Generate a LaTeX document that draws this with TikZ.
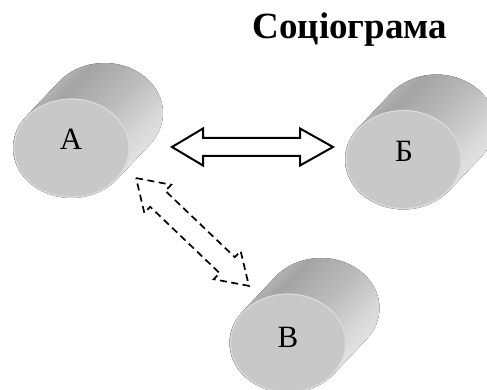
\documentclass[tikz,border=0pt]{standalone}
\usepackage{fontspec}
\setmainfont{Liberation Serif}
\definecolor{cA}{HTML}{D0D0D0}
\definecolor{cB}{HTML}{A4A4A4}
\definecolor{cC}{HTML}{BCBCBC}
\definecolor{cD}{HTML}{D8D8D8}
\definecolor{cE}{HTML}{EEEEEE}
\definecolor{face}{HTML}{C8C8C8}
\definecolor{rim}{HTML}{DADADA}
\pgfdeclarehorizontalshading{cylbody}{100bp}{color(0bp)=(cA); color(24bp)=(cA); color(36bp)=(cB); color(50bp)=(cC); color(62bp)=(cD); color(75bp)=(cE); color(100bp)=(cE)}
\tikzset{
  cyl/.pic={
    \fill[shading=cylbody, shading angle=-45]
      (141.1:58.5pt and 50pt) ++(33pt,35pt)
      arc[start angle=141.1, end angle=-38.9, x radius=58.5pt, y radius=50pt]
      -- ++(-33pt,-35pt)
      arc[start angle=-38.9, end angle=-218.9, x radius=58.5pt, y radius=50pt]
      -- cycle;
    \fill[face, draw=rim, line width=1.2pt] (0,0) ellipse[x radius=57.5pt, y radius=49pt];
  },
  lbl/.style={font=\fontsize{31}{36}\selectfont, inner sep=0pt},
  blockarrow/.style={draw=black, fill=white, line width=2pt, line join=miter},
  dasharrow/.style={draw=black, line width=1.7pt, dash pattern=on 7pt off 4.5pt},
}
\begin{document}
\begin{tikzpicture}[x=1pt,y=1pt]
\useasboundingbox (0,0) rectangle (487,390);
\begin{scope}
\clip (0,0) rectangle (487,390);
\coordinate (cA) at (71.5,242);
\coordinate (cB) at (403.5,230.5);
\coordinate (cV) at (288,47);
\pic at (cA) {cyl};
\pic at (cB) {cyl};
\pic at (cV) {cyl};
\end{scope}
\node[lbl] (A) at (71,250.5) {А};
\node[lbl] (B) at (404,239) {Б};
\node[lbl] (V) at (288,53) {В};
\node[font=\fontsize{37}{42}\selectfont\bfseries, inner sep=0pt, anchor=base] (title) at (350,351) {Соціограма};
% solid double arrow between A and B
\draw[blockarrow] (172,243) -- (203,261.5) -- (203,252) -- (300,252) -- (300,261.5)
  -- (333,243) -- (300,224.5) -- (300,234) -- (203,234) -- (203,224.5) -- cycle;
% dashed double arrow between A and V
\begin{scope}[shift={(192.5,158)}, rotate=-43.7]
\draw[dasharrow] (-78,0) -- (-48,19.5) -- (-48,11) -- (48,11) -- (48,19.5) -- (78,0)
  -- (48,-19.5) -- (48,-11) -- (-48,-11) -- (-48,-19.5) -- cycle;
\end{scope}
\end{tikzpicture}
\end{document}
